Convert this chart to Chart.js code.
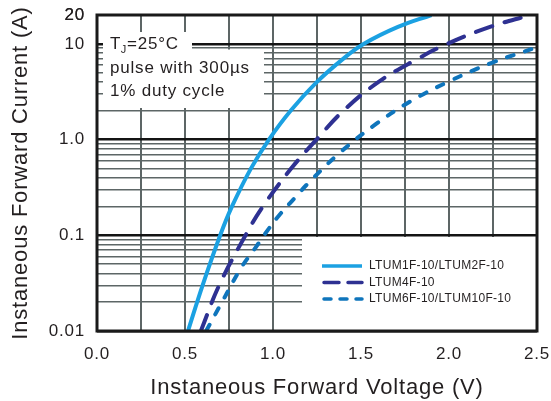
<!DOCTYPE html>
<html>
<head>
<meta charset="utf-8">
<script src="https://cdn.jsdelivr.net/npm/chart.js@4.4.1/dist/chart.umd.min.js"></script>
<style>
    html, body { margin: 0; padding: 0; background: #fff; }
    #wrap { width: 551px; height: 401px; position: relative; }
</style>
</head>
<body>
<div id="wrap"><canvas id="chart"></canvas></div>
<script>
// forward voltage (V) / forward current (A)
const seriesLabels = ['LTUM1F-10/LTUM2F-10', 'LTUM4F-10', 'LTUM6F-10/LTUM10F-10'];

const voltsM1 = [0.517, 0.6, 0.7, 0.767, 0.875, 0.977, 1.1, 1.25, 1.40, 1.517, 1.71, 1.9];
const ampsM1  = [0.01, 0.03, 0.1, 0.2, 0.5, 1.0, 2.0, 4.0, 7.0, 10, 15, 20];

const voltsM4 = [0.59, 0.694, 0.844, 0.943, 1.104, 1.247, 1.40, 1.60, 1.824, 1.99, 2.233, 2.46];
const ampsM4  = [0.01, 0.03, 0.1, 0.2, 0.5, 1.0, 2.0, 4.0, 7.0, 10, 15, 20];

const voltsM6 = [0.62, 0.71, 0.82, 0.9, 0.97, 1.04, 1.125, 1.2, 1.38, 1.58, 1.78, 2.0, 2.24, 2.5];
const ampsM6  = [0.01, 0.02, 0.046, 0.074, 0.113, 0.166, 0.247, 0.35, 0.73, 1.43, 2.5, 4.05, 6.3, 9.2];

// axis ticks
const xTicks = [0, 0.25, 0.5, 0.75, 1.0, 1.25, 1.5, 1.75, 2.0, 2.25, 2.5];
const yLabelValues = [0.01, 0.1, 1, 10, 20];
const yLabelText = ['0.01', '0.1', '1.0', '10', '20'];

// log grid: 1..9 in every decade, up to 20
const yGrid = [];
[0.01, 0.1, 1, 10].forEach(d => {
    for (let m = 1; m <= 9; m++) {
        if (d * m <= 20) yGrid.push(+(d * m).toPrecision(3));
    }
});
yGrid.push(20);

const toPoints = (xs, ys) => xs.map((x, i) => ({ x: x, y: ys[i] }));

const FONT = '"Liberation Sans", Arial, Helvetica, sans-serif';
const INK = '#231f20';
const GRID = '#5d6666';

Chart.defaults.font.family = FONT;
Chart.defaults.color = INK;

const isDecade = v => {
    const l = Math.log10(v);
    return Math.abs(l - Math.round(l)) < 1e-6;
};

// white boxes, note text and legend sit on top of the grid, below the curves
const overlayPlugin = {
    id: 'overlay',
    beforeDraw(chart) {
        chart.ctx.letterSpacing = '0.8px';
    },
    beforeDatasetsDraw(chart) {
        const { ctx, chartArea: a } = chart;
        ctx.save();
        ctx.fillStyle = '#fff';
        // note box
        ctx.fillRect(a.left + 6, a.top + 17, 89, 18);
        ctx.fillRect(a.left + 6, a.top + 34.5, 161, 58.5);
        // legend box
        ctx.fillRect(a.left + 205, a.top + 222, a.right - a.left - 205, a.bottom - a.top - 222);

        ctx.fillStyle = INK;
        ctx.textBaseline = 'alphabetic';
        ctx.textAlign = 'left';
        ctx.letterSpacing = '0.8px';
        ctx.font = '17px ' + FONT;
        const tx = a.left + 13;
        ctx.fillText('T', tx, a.top + 34);
        let w = ctx.measureText('T').width;
        ctx.font = '11px ' + FONT;
        ctx.fillText('J', tx + w - 0.5, a.top + 38);
        const wj = ctx.measureText('J').width;
        ctx.font = '17px ' + FONT;
        ctx.fillText('=25°C', tx + w + wj - 0.5, a.top + 34);
        ctx.fillText('pulse with 300µs', tx, a.top + 57.7);
        ctx.fillText('1% duty cycle', tx, a.top + 80.7);

        // legend
        const legendDash = [[], [15, 9], [7, 9]];
        ctx.font = '12px ' + FONT;
        ctx.letterSpacing = '0.3px';
        ctx.textBaseline = 'middle';
        chart.data.datasets.forEach((ds, i) => {
            const y = a.top + 251 + i * 16.5;
            ctx.strokeStyle = ds.borderColor;
            ctx.lineWidth = 3.5;
            ctx.lineCap = i === 0 ? 'butt' : 'round';
            ctx.setLineDash(legendDash[i]);
            ctx.beginPath();
            ctx.moveTo(a.left + 225 + (i ? 2 : 0), y);
            ctx.lineTo(a.left + 265, y);
            ctx.stroke();
            ctx.setLineDash([]);
            ctx.fillStyle = INK;
            ctx.fillText(ds.label, a.left + 272, y);
        });
        ctx.restore();
        ctx.letterSpacing = '0.8px';
    },
    afterDraw(chart) {
        const { ctx, chartArea: a } = chart;
        ctx.save();
        ctx.strokeStyle = '#1a1a1a';
        ctx.lineWidth = 3;
        ctx.setLineDash([]);
        ctx.strokeRect(a.left, a.top, a.right - a.left, a.bottom - a.top);
        ctx.restore();
    }
};

new Chart(document.getElementById('chart'), {
    type: 'line',
    data: {
        datasets: [
            {
                label: seriesLabels[0],
                data: toPoints(voltsM1, ampsM1),
                borderColor: '#1ba1e2',
                borderWidth: 4,
                tension: 0.4
            },
            {
                label: seriesLabels[1],
                data: toPoints(voltsM4, ampsM4),
                borderColor: '#2e3192',
                borderWidth: 4,
                borderDash: [17, 13],
                borderCapStyle: 'round',
                tension: 0.4
            },
            {
                label: seriesLabels[2],
                data: toPoints(voltsM6, ampsM6),
                borderColor: '#0f75bc',
                borderWidth: 4,
                borderDash: [7, 12],
                borderCapStyle: 'round',
                tension: 0.4
            }
        ]
    },
    options: {
        responsive: true,
        maintainAspectRatio: false,
        animation: false,
        layout: {
            padding: { top: 15, right: 14, left: 0, bottom: 0 }
        },
        elements: {
            point: { radius: 0 }
        },
        plugins: {
            legend: { display: false },
            tooltip: { enabled: false }
        },
        scales: {
            x: {
                type: 'linear',
                min: 0,
                max: 2.5,
                afterBuildTicks: scale => {
                    scale.ticks = xTicks.map(v => ({ value: v }));
                },
                afterFit: scale => {
                    scale.height = 70;
                    scale.paddingLeft = 0;
                    scale.paddingRight = 0;
                },
                ticks: {
                    autoSkip: false,
                    maxRotation: 0,
                    padding: 13,
                    font: { size: 17 },
                    color: INK,
                    callback: v => (Math.round(v * 100) % 50 === 0 ? v.toFixed(1) : '')
                },
                grid: {
                    color: GRID,
                    lineWidth: 2,
                    drawTicks: false
                },
                border: { display: false },
                title: {
                    display: true,
                    text: 'Instaneous Forward Voltage (V)',
                    font: { size: 22 },
                    color: INK,
                    padding: { top: 0, bottom: 0 }
                }
            },
            y: {
                type: 'logarithmic',
                min: 0.01,
                max: 20,
                afterBuildTicks: scale => {
                    scale.ticks = yGrid.map(v => ({ value: v }));
                },
                afterFit: scale => {
                    scale.width = 97;
                    scale.paddingTop = 0;
                    scale.paddingBottom = 0;
                },
                ticks: {
                    autoSkip: false,
                    padding: 12,
                    font: { size: 17 },
                    color: INK,
                    callback: v => {
                        const i = yLabelValues.findIndex(t => Math.abs(t - v) < 1e-9);
                        return i >= 0 ? yLabelText[i] : '';
                    }
                },
                grid: {
                    color: c => (c.tick && isDecade(c.tick.value) ? '#141414' : GRID),
                    lineWidth: c => (c.tick && isDecade(c.tick.value) ? 2.5 : 1.6),
                    drawTicks: false
                },
                border: { display: false },
                title: {
                    display: true,
                    text: 'Instaneous Forward Current (A)',
                    font: { size: 22 },
                    color: INK,
                    padding: { top: 8, bottom: 0 }
                }
            }
        }
    },
    plugins: [overlayPlugin]
});
</script>
</body>
</html>
